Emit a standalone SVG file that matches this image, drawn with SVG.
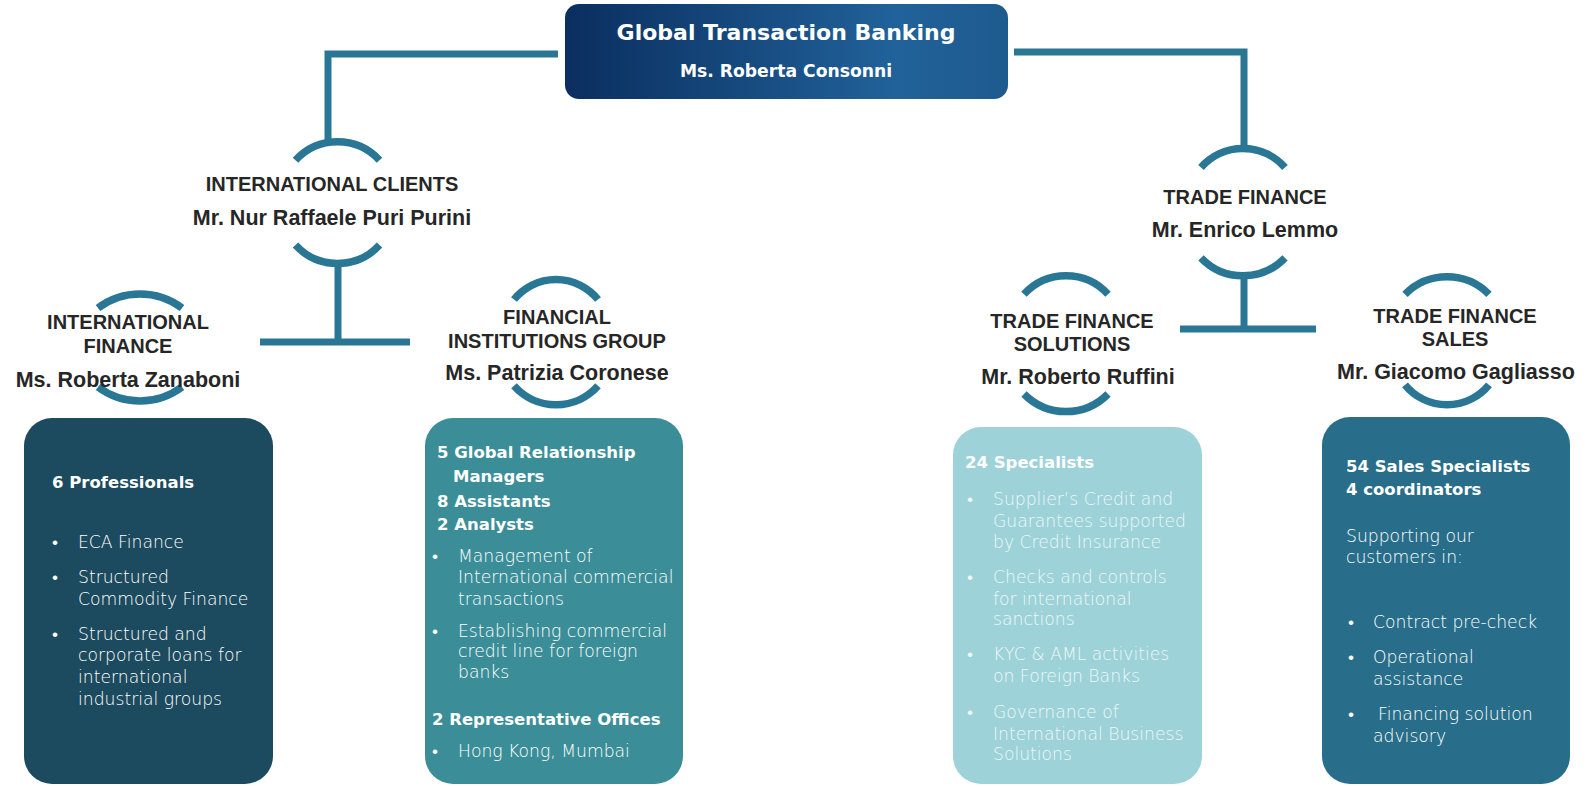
<svg xmlns="http://www.w3.org/2000/svg" width="1595" height="786" viewBox="0 0 1595 786">
  <defs>
    <linearGradient id="headGrad" x1="0" y1="0" x2="1" y2="0">
      <stop offset="0" stop-color="#0a2e5f"/>
      <stop offset="0.75" stop-color="#21629a"/>
      <stop offset="1" stop-color="#1d5a8e"/>
    </linearGradient>
    <style>
      .line { fill: none; stroke: #2a7795; stroke-width: 7; stroke-linecap: butt; stroke-linejoin: miter; }
      .arc { fill: none; stroke: #2a7795; stroke-width: 7.5; stroke-linecap: butt; }
      .hd { font-family: "Liberation Sans", Arial, sans-serif; font-weight: bold; font-size: 20px; fill: #262626; text-anchor: middle; }
      .nm { font-size: 21.5px; }
      .top1 { font-family: "DejaVu Sans", "Liberation Sans", sans-serif; font-weight: bold; font-size: 22px; fill: #ffffff; text-anchor: middle; }
      .top2 { font-family: "DejaVu Sans", "Liberation Sans", sans-serif; font-weight: bold; font-size: 17.2px; fill: #ffffff; text-anchor: middle; }
      .bh { font-family: "DejaVu Sans", "Liberation Sans", sans-serif; font-weight: bold; font-size: 16.5px; fill: #ffffff; }
      .bt { font-family: "DejaVu Sans", "Liberation Sans", sans-serif; font-weight: 300; font-size: 17.2px; fill: #ffffff; }
      .lt { fill: #eef8f9; }
    </style>
  </defs>

  <!-- connectors -->
  <g id="connectors">
    <path class="line" d="M 558 54 H 328 V 142"/>
    <path class="line" d="M 1014 52 H 1244 V 149"/>
    <path class="line" d="M 338 265 V 342"/>
    <path class="line" d="M 260 342 H 410"/>
    <path class="line" d="M 1244 277 V 329"/>
    <path class="line" d="M 1180 329 H 1316"/>
  </g>

  <!-- head of unit -->
  <g id="global-transaction-banking">
    <rect x="565" y="4" width="443" height="95" rx="14" fill="url(#headGrad)"/>
    <text class="top1" x="786" y="40">Global Transaction Banking</text>
    <text class="top2" x="786" y="77">Ms. Roberta Consonni</text>
  </g>

  <!-- International Clients -->
  <g id="international-clients">
    <path class="arc" d="M 295.5 160.3 A 57 57 0 0 1 379.5 160.3"/>
    <path class="arc" d="M 295.5 245 A 57 57 0 0 0 379.5 245"/>
    <text class="hd" x="332" y="191">INTERNATIONAL CLIENTS</text>
    <text class="hd nm" x="332" y="225">Mr. Nur Raffaele Puri Purini</text>
  </g>

  <!-- Trade Finance -->
  <g id="trade-finance">
    <path class="arc" d="M 1201 167.5 A 55.9 55.9 0 0 1 1285 167.5"/>
    <path class="arc" d="M 1201 257.8 A 58 58 0 0 0 1285 257.8"/>
    <text class="hd" x="1245" y="204">TRADE FINANCE</text>
    <text class="hd nm" x="1245" y="237">Mr. Enrico Lemmo</text>
  </g>

  <!-- International Finance -->
  <g id="international-finance">
    <path class="arc" d="M 98 308 A 70 70 0 0 1 182 308"/>
    <path class="arc" d="M 98 387 A 70 70 0 0 0 182 387"/>
    <text class="hd" x="128" y="329">INTERNATIONAL</text>
    <text class="hd" x="128" y="353">FINANCE</text>
    <text class="hd nm" x="128" y="387">Ms. Roberta Zanaboni</text>
    <rect x="24" y="418" width="249" height="366" rx="28" fill="#1c4a5e"/>
    <text class="bh" x="52" y="488">6 Professionals</text>
    <g class="bt">
      <text x="52" y="548">•</text><text x="78" y="548">ECA Finance</text>
      <text x="52" y="583">•</text><text x="78" y="583">Structured</text>
      <text x="78" y="605">Commodity Finance</text>
      <text x="52" y="640">•</text><text x="78" y="640">Structured and</text>
      <text x="78" y="661">corporate loans for</text>
      <text x="78" y="683">international</text>
      <text x="78" y="705">industrial groups</text>
    </g>
  </g>

  <!-- Financial Institutions Group -->
  <g id="financial-institutions-group">
    <path class="arc" d="M 514 299.5 A 54.1 54.1 0 0 1 598 299.5"/>
    <path class="arc" d="M 514 385.8 A 55.9 55.9 0 0 0 598 385.8"/>
    <text class="hd" x="557" y="324">FINANCIAL</text>
    <text class="hd" x="557" y="348">INSTITUTIONS GROUP</text>
    <text class="hd nm" x="557" y="380">Ms. Patrizia Coronese</text>
    <rect x="425" y="418" width="258" height="366" rx="28" fill="#3b8e98"/>
    <text class="bh" x="437" y="458">5 Global Relationship</text>
    <text class="bh" x="453" y="482">Managers</text>
    <text class="bh" x="437" y="507">8 Assistants</text>
    <text class="bh" x="437" y="530">2 Analysts</text>
    <g class="bt">
      <text x="432" y="562">•</text><text x="458" y="562">Management of</text>
      <text x="458" y="583">International commercial</text>
      <text x="458" y="605">transactions</text>
      <text x="432" y="637">•</text><text x="458" y="637">Establishing commercial</text>
      <text x="458" y="657">credit line for foreign</text>
      <text x="458" y="678">banks</text>
    </g>
    <text class="bh" x="432" y="725">2 Representative Offices</text>
    <g class="bt">
      <text x="432" y="757">•</text><text x="458" y="757">Hong Kong, Mumbai</text>
    </g>
  </g>

  <!-- Trade Finance Solutions -->
  <g id="trade-finance-solutions">
    <path class="arc" d="M 1024 294.3 A 57 57 0 0 1 1108 294.3"/>
    <path class="arc" d="M 1024 394 A 59 59 0 0 0 1108 394"/>
    <text class="hd" x="1072" y="328">TRADE FINANCE</text>
    <text class="hd" x="1072" y="351">SOLUTIONS</text>
    <text class="hd nm" x="1078" y="384">Mr. Roberto Ruffini</text>
    <rect x="953" y="427" width="249" height="357" rx="28" fill="#9dd2d8"/>
    <text class="bh" x="965" y="468">24 Specialists</text>
    <g class="bt lt">
      <text x="967" y="505">•</text><text x="993" y="505">Supplier’s Credit and</text>
      <text x="993" y="527">Guarantees supported</text>
      <text x="993" y="548">by Credit Insurance</text>
      <text x="967" y="583">•</text><text x="993" y="583">Checks and controls</text>
      <text x="993" y="605">for international</text>
      <text x="993" y="625">sanctions</text>
      <text x="967" y="660">•</text><text x="993" y="660">KYC &amp; AML activities</text>
      <text x="993" y="682">on Foreign Banks</text>
      <text x="967" y="718">•</text><text x="993" y="718">Governance of</text>
      <text x="993" y="740">International Business</text>
      <text x="993" y="760">Solutions</text>
    </g>
  </g>

  <!-- Trade Finance Sales -->
  <g id="trade-finance-sales">
    <path class="arc" d="M 1405 294.3 A 59 59 0 0 1 1489 294.3"/>
    <path class="arc" d="M 1405 384.8 A 54.1 54.1 0 0 0 1489 384.8"/>
    <text class="hd" x="1455" y="323">TRADE FINANCE</text>
    <text class="hd" x="1455" y="346">SALES</text>
    <text class="hd nm" x="1456" y="379">Mr. Giacomo Gagliasso</text>
    <rect x="1322" y="417" width="248" height="367" rx="28" fill="#286e8a"/>
    <text class="bh" x="1346" y="472">54 Sales Specialists</text>
    <text class="bh" x="1346" y="495">4 coordinators</text>
    <g class="bt">
      <text x="1346" y="542">Supporting our</text>
      <text x="1346" y="563">customers in:</text>
      <text x="1348" y="628">•</text><text x="1373" y="628">Contract pre-check</text>
      <text x="1348" y="663">•</text><text x="1373" y="663">Operational</text>
      <text x="1373" y="685">assistance</text>
      <text x="1348" y="720">•</text><text x="1378" y="720">Financing solution</text>
      <text x="1373" y="742">advisory</text>
    </g>
  </g>
</svg>
